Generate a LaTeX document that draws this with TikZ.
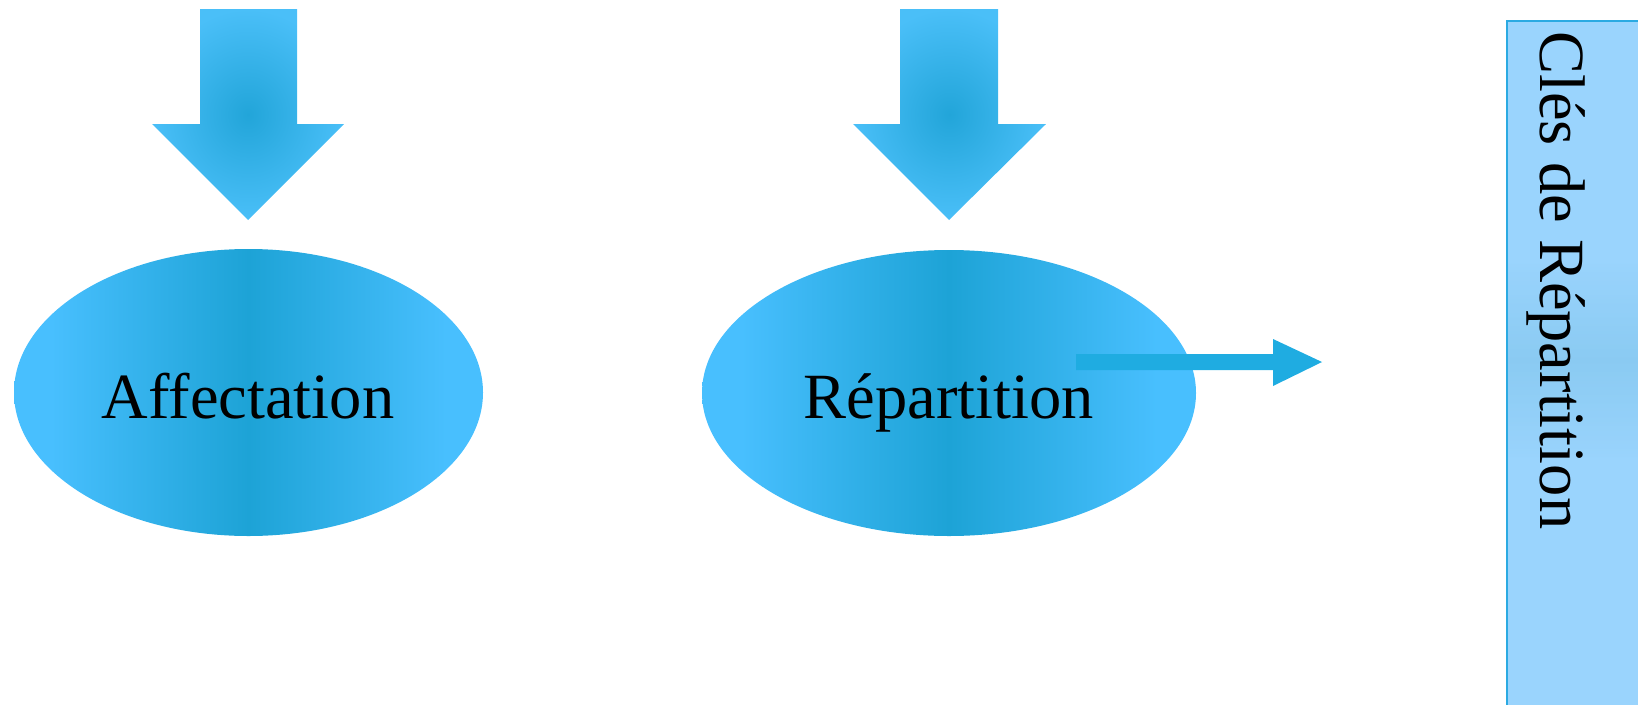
\documentclass[tikz,border=0pt]{standalone}
\usepackage{fontspec}
\setmainfont{Liberation Serif}
\usetikzlibrary{shapes.geometric}
\definecolor{skyedge}{HTML}{48BFFE}
\definecolor{skycore}{HTML}{1DA3D6}
\definecolor{arrowedge}{HTML}{4ABFF8}
\definecolor{arrowcore}{HTML}{22A5D9}
\definecolor{linkblue}{HTML}{1FACE1}
\definecolor{panelfill}{HTML}{9AD4FD}
\definecolor{panelband}{HTML}{84C7EE}
\definecolor{panelline}{HTML}{2BAAE2}
% flat light rim, darker vertical core
\pgfdeclarehorizontalshading{ovalshade}{100bp}{%
  color(0bp)=(skyedge); color(29bp)=(skyedge); color(50bp)=(skycore);
  color(71bp)=(skyedge); color(100bp)=(skyedge)}
\tikzset{
  oval/.style={ellipse, draw=none, inner sep=0pt, shading=ovalshade},
  bigtext/.style={font=\fontsize{64.5}{78}\selectfont, inner sep=0pt, text=black},
  downarrow/.style={inner color=arrowcore, outer color=arrowedge},
}
\begin{document}
\begin{tikzpicture}[x=1pt,y=-1pt]
  \useasboundingbox (0,0) rectangle (1638,704);
  \clip (0,0) rectangle (1638,704);

  % side panel
  \fill[panelfill] (1507,21) rectangle (1650,720);
  \shade[top color=panelfill, bottom color=panelfill, middle color=panelband, opacity=0.7]
    (1508,260) rectangle (1650,460);
  \draw[panelline, line width=2pt] (1507,720) -- (1507,21) -- (1650,21);
  \node[bigtext, rotate=-90, anchor=base west] (keys) at (1540,31) {Clés de Répartition};

  % the two process ovals
  \node[oval, minimum width=469pt, minimum height=287pt] (aff) at (248.5,392.5) {};
  \node[oval, minimum width=494pt, minimum height=286pt] (rep) at (949,393) {};
  \node[bigtext, anchor=base] (afftxt) at (248,418) {Affectation};
  \node[bigtext, anchor=base] (reptxt) at (949,418) {Répartition};

  % incoming block arrows
  \coordinate (a1) at (248,220);
  \coordinate (a2) at (949,220);
  \shade[downarrow] (200,9) -- (297,9) -- (297,124) -- (344,124) -- (a1)
    -- (152,124) -- (200,124) -- cycle;
  \shade[downarrow] (900,9) -- (998,9) -- (998,124) -- (1046,124) -- (a2)
    -- (853,124) -- (900,124) -- cycle;

  % outgoing arrow from the second oval
  \coordinate (outstart) at (1076,362);
  \coordinate (outtip) at (1322,362);
  \fill[linkblue] (outstart |- 0,354) -- (1273,354) -- (1273,339) -- (outtip)
    -- (1273,386) -- (1273,370) -- (outstart |- 0,370) -- cycle;
\end{tikzpicture}
\end{document}
